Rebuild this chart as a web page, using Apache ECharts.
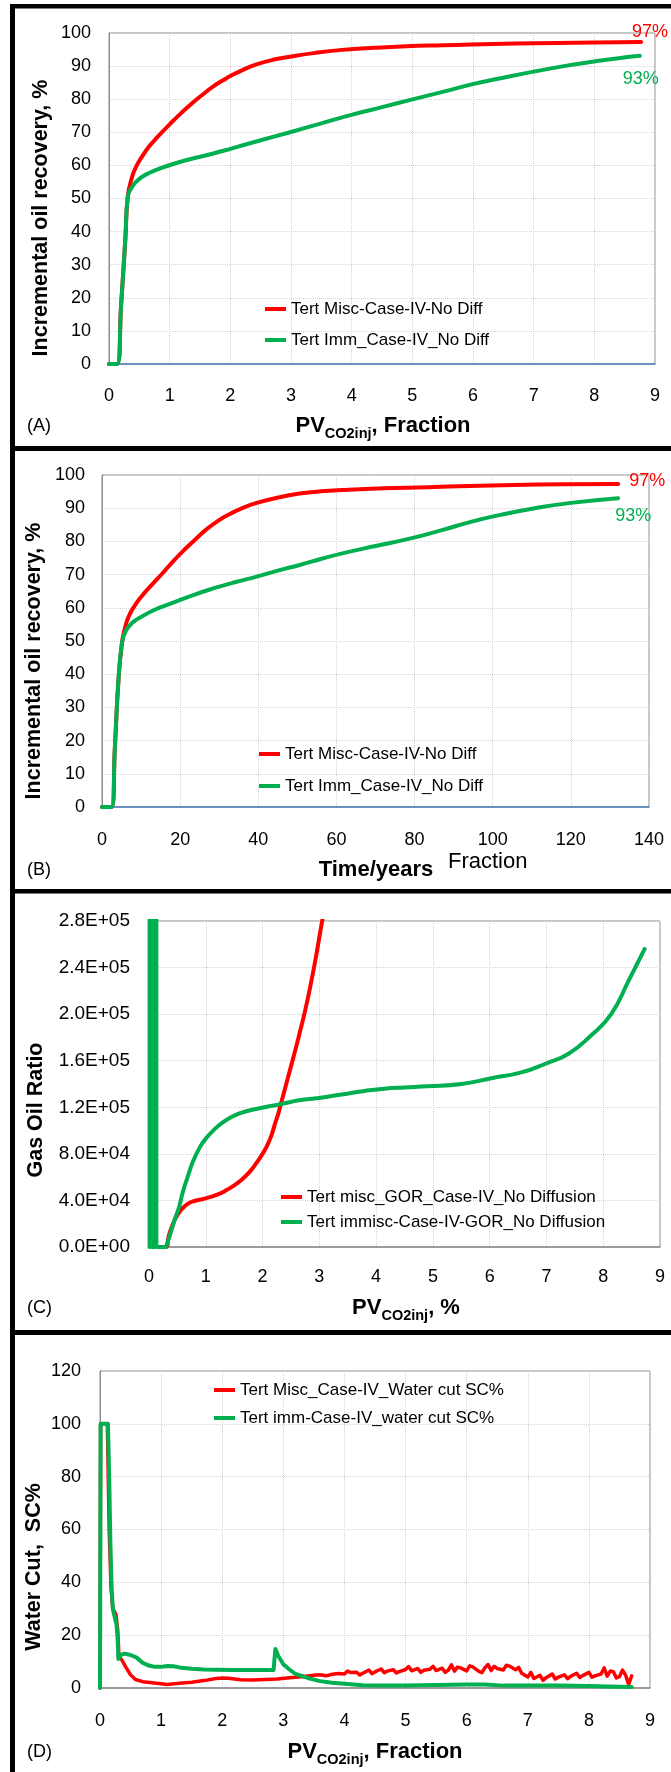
<!DOCTYPE html>
<html>
<head>
<meta charset="utf-8">
<title>CO2 injection - Case IV</title>
<script src="https://cdn.jsdelivr.net/npm/echarts@6/dist/echarts.min.js"></script>
<style>
    html, body { margin: 0; padding: 0; background: #fff; }
    #main { width: 671px; height: 1772px; }
</style>
</head>
<body>
<div id="main"></div>
<script>
// 面板 A: 采收率 vs PV
var pvMiscA = [0, 0.13, 0.2, 0.27, 0.31, 0.38, 0.45, 0.55, 0.66, 0.8, 1.02, 1.2, 1.37, 1.55, 1.72, 1.88, 2.0, 2.2, 2.43, 2.7, 3.0, 3.4, 3.84, 4.3, 4.9, 5.5, 5.96, 6.7, 7.37, 8.0, 8.77];
var recMiscA = [0, 0, 18, 38, 50.6, 56.5, 59.7, 62.8, 65.7, 68.6, 72.8, 76, 78.8, 81.5, 83.9, 85.7, 87.0, 88.8, 90.5, 91.9, 92.9, 94.0, 94.9, 95.5, 96.0, 96.3, 96.5, 96.8, 97.0, 97.1, 97.3];
var pvImmA = [0, 0.13, 0.2, 0.27, 0.31, 0.38, 0.45, 0.55, 0.66, 0.8, 1.02, 1.3, 1.72, 2.0, 2.5, 3.0, 3.5, 3.98, 4.5, 4.97, 5.5, 5.96, 6.5, 7.02, 7.5, 8.0, 8.4, 8.75];
var recImmA = [0, 0, 18, 38, 50.6, 53.5, 55.1, 56.6, 57.7, 58.8, 60.2, 61.7, 63.6, 65.0, 67.6, 70.1, 72.7, 75.2, 77.6, 79.8, 82.2, 84.4, 86.5, 88.4, 90, 91.4, 92.4, 93.1];

// 面板 B: 采收率 vs 时间
var yrMiscB = [0, 2.4, 3.3, 4.2, 5.1, 5.9, 6.8, 8.3, 10.1, 12.8, 15.5, 18.2, 21, 23.8, 26.5, 29.7, 33, 36.2, 39.6, 45, 50.6, 56, 61.5, 72, 83.4, 94, 105.3, 118, 132.1];
var recMiscB = [0, 0, 18, 38, 49.3, 54, 57.3, 60.5, 63.4, 67, 70.4, 74, 77.4, 80.5, 83.4, 86.2, 88.4, 90.2, 91.6, 93.2, 94.4, 95.1, 95.5, 96, 96.3, 96.7, 97, 97.2, 97.3];
var yrImmB = [0, 2.4, 3.3, 4.2, 5.1, 5.9, 6.8, 8.3, 10.1, 13.5, 17.7, 23, 28.7, 34, 39.6, 45, 50.6, 56, 61.5, 70, 79, 87, 94.4, 102, 110.8, 120, 132.1];
var recImmB = [0, 0, 18, 38, 49.3, 52.5, 54.3, 56, 57.3, 59.4, 61.3, 63.7, 65.9, 67.7, 69.4, 71.2, 72.9, 74.7, 76.4, 78.6, 80.9, 83.4, 85.9, 88, 90, 91.6, 93];

// 面板 C: 气油比
var pvMiscC = [0.15, 0.29, 0.35, 0.45, 0.55, 0.68, 0.8, 0.98, 1.2, 1.36, 1.52, 1.66, 1.78, 1.89, 1.98, 2.07, 2.15, 2.22, 2.28, 2.34, 2.45, 2.56, 2.66, 2.75, 2.85, 2.94, 3.05, 3.17];
var gorMiscC = [0, 0, 10000, 23000, 31000, 37000, 39500, 41600, 45000, 48700, 53500, 59000, 65000, 72000, 78500, 86000, 95000, 106000, 115000, 126000, 146000, 166000, 185000, 203000, 226000, 249000, 280000, 310000];
// 初期极高的气油比 (超出坐标上限, 呈竖条)
var pvImmSpikeC = [0.01, 0.01, 0.05, 0.05, 0.09, 0.09, 0.13, 0.13, 0.3];
var gorImmSpikeC = [0, 400000, 400000, 0, 0, 400000, 400000, 0, 0];
var pvImmC = [0.3, 0.38, 0.45, 0.53, 0.6, 0.68, 0.78, 0.9, 1.0, 1.13, 1.3, 1.51, 1.75, 2.04, 2.35, 2.64, 3.0, 3.39, 3.8, 4.15, 4.5, 4.9, 5.5, 6.03, 6.56, 7.01, 7.39, 7.77, 8.14, 8.45, 8.73];
var gorImmC = [0, 12000, 23000, 34400, 48000, 60000, 74000, 86000, 93000, 100000, 107000, 113000, 117000, 120000, 123000, 126000, 128000, 131000, 134000, 136000, 137000, 138000, 140000, 145000, 150000, 158000, 166000, 181000, 200000, 229000, 256000];

// 面板 D: 含水率
var pvMiscD = [0, 0.01, 0.12, 0.15, 0.18, 0.21, 0.26, 0.29, 0.31, 0.36, 0.42, 0.5, 0.58, 0.7, 0.85, 1.0, 1.1, 1.3, 1.5, 1.7, 1.9, 2.0, 2.1, 2.3, 2.5, 2.7, 2.9, 3.1, 3.3, 3.5, 3.6, 3.7, 3.8, 3.9, 4.0, 4.05, 4.1, 4.2, 4.25, 4.3, 4.4, 4.45, 4.5, 4.6, 4.65, 4.7, 4.8, 4.85, 4.9, 5.0, 5.05, 5.1, 5.2, 5.25, 5.3, 5.4, 5.45, 5.5, 5.6, 5.65, 5.7, 5.75, 5.8, 5.85, 5.9, 6.0, 6.05, 6.1, 6.2, 6.25, 6.3, 6.35, 6.4, 6.45, 6.5, 6.6, 6.65, 6.7, 6.8, 6.85, 6.9, 7.0, 7.05, 7.1, 7.2, 7.25, 7.3, 7.4, 7.45, 7.5, 7.6, 7.65, 7.7, 7.8, 7.85, 7.9, 8.0, 8.05, 8.1, 8.2, 8.25, 8.3, 8.35, 8.4, 8.45, 8.5, 8.55, 8.6, 8.65, 8.7];
var wcMiscD = [0, 100, 100, 60, 38, 30, 28, 22, 12, 10.5, 8, 5, 3.2, 2.4, 2.0, 1.6, 1.3, 1.8, 2.2, 2.8, 3.6, 3.8, 3.7, 3.1, 3.0, 3.2, 3.4, 3.9, 4.3, 4.8, 5.0, 4.6, 5.2, 5.5, 5.3, 6.4, 5.9, 6.0, 4.9, 5.6, 6.8, 5.4, 6.1, 7.2, 5.8, 6.4, 6.9, 5.7, 6.2, 7.0, 8.1, 6.5, 7.4, 5.9, 6.7, 7.1, 8.2, 6.6, 7.5, 5.9, 6.8, 8.8, 6.4, 7.9, 7.6, 6.5, 8.4, 8.0, 6.3, 5.8, 7.7, 8.9, 6.6, 8.2, 7.4, 6.8, 8.6, 8.3, 6.9, 7.8, 5.6, 4.2, 5.9, 3.6, 4.8, 2.9, 3.9, 5.3, 3.4, 4.1, 5.0, 3.5, 4.4, 5.6, 4.0, 4.7, 5.9, 4.1, 4.6, 5.3, 7.6, 4.5, 6.4, 6.2, 3.8, 4.3, 6.8, 4.9, 1.4, 4.6];
var pvImmD = [0, 0.01, 0.13, 0.15, 0.17, 0.19, 0.21, 0.24, 0.27, 0.29, 0.3, 0.34, 0.4, 0.5, 0.6, 0.7, 0.8, 0.9, 1.0, 1.1, 1.2, 1.3, 1.5, 1.7, 1.9, 2.2, 2.5, 2.84, 2.87, 2.92, 3.0, 3.1, 3.2, 3.4, 3.6, 3.8, 4.0, 4.3, 4.6, 5.0, 5.5, 6.0, 6.3, 6.6, 7.0, 7.5, 8.0, 8.3, 8.7];
var wcImmD = [0, 100, 100, 80, 55, 38, 30, 27, 24, 18, 11, 12.5, 13, 12.5, 11.5, 9.5, 8.5, 8, 8, 8.3, 8.2, 7.8, 7.3, 7.0, 6.9, 6.8, 6.8, 6.8, 14.8, 12, 9, 7, 5.3, 3.8, 2.6, 2, 1.6, 1.0, 0.9, 0.9, 1.1, 1.3, 1.3, 0.9, 0.9, 0.9, 0.8, 0.6, 0.4];

var FONT = 'Liberation Sans, Arial, sans-serif';
var RED = '#ff0000';
var GREEN = '#00b050';

function zip(xs, ys) {
    var out = [];
    for (var i = 0; i < xs.length; i++) {
        out.push([xs[i], ys[i]]);
    }
    return out;
}

function sciLabel(v) {
    if (v === 0) return '0.0E+00';
    var e = Math.floor(Math.log10(v) + 1e-9);
    var m = v / Math.pow(10, e);
    return m.toFixed(1) + 'E+' + (e < 10 ? '0' + e : e);
}

var grids = [
    { left: 109, top: 33, width: 546, height: 331 },
    { left: 102, top: 475, width: 547, height: 332 },
    { left: 149, top: 921, width: 511, height: 326 },
    { left: 100, top: 1371, width: 550, height: 317 }
];
grids.forEach(function (g) {
    g.show = true;
    g.borderColor = '#8c8c8c';
    g.borderWidth = 1;
    g.backgroundColor = '#fff';
});

var splitLine = { show: true, lineStyle: { color: '#d4d4d4', type: 'dotted', width: 1 } };

function xAxis(idx, max, interval, lineColor, margin) {
    return {
        type: 'value', gridIndex: idx, min: 0, max: max, interval: interval,
        axisLine: { show: true, onZero: false, lineStyle: { color: lineColor, width: 1.5 } },
        axisTick: { show: false },
        axisLabel: { color: '#000', fontSize: 18, fontFamily: FONT, margin: margin },
        splitLine: splitLine
    };
}

function yAxis(idx, max, interval, margin, fmt, size) {
    return {
        type: 'value', gridIndex: idx, min: 0, max: max, interval: interval,
        axisLine: { show: true, lineStyle: { color: '#8c8c8c', width: 1 } },
        axisTick: { show: false },
        axisLabel: { color: '#000', fontSize: size || 18, fontFamily: FONT, margin: margin, formatter: fmt },
        splitLine: splitLine
    };
}

function line(name, idx, data, color, smooth, endLabel, width) {
    var s = {
        name: name, type: 'line', xAxisIndex: idx, yAxisIndex: idx,
        data: data, showSymbol: false, symbol: 'none',
        smooth: smooth,
        lineStyle: { color: color, width: width || 4, join: 'round', cap: 'round' },
        itemStyle: { color: color },
        clip: true
    };
    if (endLabel) {
        s.endLabel = {
            show: true, formatter: endLabel.text, color: color,
            fontSize: 18, fontFamily: FONT, offset: endLabel.offset
        };
    }
    return s;
}

function legend(names, left, top, gap) {
    return {
        data: names, orient: 'vertical', left: left, top: top, padding: 0,
        itemGap: gap, itemWidth: 21, itemHeight: 4, icon: 'rect',
        textStyle: { color: '#000', fontSize: 17, fontFamily: FONT, lineHeight: 20 },
        selectedMode: false
    };
}

// 轴标题 (带下标)
var subRich = {
    b: { fontSize: 22, fontWeight: 'bold', fontFamily: FONT, lineHeight: 30, color: '#000' },
    s: { fontSize: 14.5, fontWeight: 'bold', fontFamily: FONT, lineHeight: 16, verticalAlign: 'bottom', color: '#000' }
};

function title(text, x, y, rotate, size) {
    return {
        type: 'text', x: x, y: y, rotation: rotate ? Math.PI / 2 : 0,
        style: {
            text: text, fill: '#000', align: 'center', verticalAlign: 'middle',
            font: 'bold ' + (size || 21) + 'px ' + FONT
        }
    };
}

function richTitle(text, x, y) {
    return {
        type: 'text', x: x, y: y,
        style: { text: text, rich: subRich, align: 'center', verticalAlign: 'middle' }
    };
}

function plain(text, x, y, size) {
    return {
        type: 'text', x: x, y: y,
        style: { text: text, fill: '#000', font: size + 'px ' + FONT, align: 'left', verticalAlign: 'middle' }
    };
}

function bar(x, y, w, h) {
    return { type: 'rect', shape: { x: x, y: y, width: w, height: h }, style: { fill: '#000' }, z: 100 };
}

var nameMiscA = 'Tert Misc-Case-IV-No Diff';
var nameImmA = 'Tert Imm_Case-IV_No Diff';
var nameMiscC = 'Tert misc_GOR_Case-IV_No Diffusion';
var nameImmC = 'Tert immisc-Case-IV-GOR_No Diffusion';
var nameMiscD = 'Tert Misc_Case-IV_Water cut SC%';
var nameImmD = 'Tert imm-Case-IV_water cut SC%';

var option = {
    animation: false,
    backgroundColor: '#fff',
    grid: grids,
    xAxis: [
        xAxis(0, 9, 1, '#4a7ebb', 23),
        xAxis(1, 140, 20, '#4a7ebb', 24),
        xAxis(2, 9, 1, '#8c8c8c', 21),
        xAxis(3, 9, 1, '#8c8c8c', 24)
    ],
    yAxis: [
        yAxis(0, 100, 10, 18),
        yAxis(1, 100, 10, 17),
        yAxis(2, 280000, 40000, 19, sciLabel, 19),
        yAxis(3, 120, 20, 19)
    ],
    legend: [
        legend([nameMiscA, nameImmA], 265, 299, 11),
        legend([nameMiscA, nameImmA], 259, 744, 12),
        legend([nameMiscC, nameImmC], 281, 1187, 5),
        legend([nameMiscD, nameImmD], 214, 1380, 8)
    ],
    series: [
        line(nameMiscA, 0, zip(pvMiscA, recMiscA), RED, 0.5, { text: '97%', offset: [-17, -10] }),
        line(nameImmA, 0, zip(pvImmA, recImmA), GREEN, 0.5, { text: '93%', offset: [-25, 23] }),
        line(nameMiscA, 1, zip(yrMiscB, recMiscB), RED, 0.5, { text: '97%', offset: [3, -3] }),
        line(nameImmA, 1, zip(yrImmB, recImmB), GREEN, 0.5, { text: '93%', offset: [-11, 18] }),
        line(nameMiscC, 2, zip(pvMiscC, gorMiscC), RED, 0.5),
        line(nameImmC, 2, zip(pvImmSpikeC, gorImmSpikeC), GREEN, false),
        line(nameImmC, 2, zip(pvImmC, gorImmC), GREEN, 0.5),
        line(nameMiscD, 3, zip(pvMiscD, wcMiscD), RED, false, null, 3.5),
        line(nameImmD, 3, zip(pvImmD, wcImmD), GREEN, false)
    ],
    graphic: [
        // 外框与分隔线
        bar(10, 4, 5, 1768),
        bar(10, 4, 661, 4.5),
        bar(10, 446, 661, 5),
        bar(10, 889, 661, 4.5),
        bar(10, 1330, 661, 5),
        // 纵轴标题
        title('Incremental oil recovery, %', 41, 218, true, 21.5),
        title('Incremental oil recovery, %', 34, 661, true, 21.5),
        title('Gas Oil Ratio', 36, 1110, true, 21.5),
        title('Water Cut,  SC%', 34, 1567, true, 21.5),
        // 横轴标题
        richTitle('{b|PV}{s|CO2inj}{b|, Fraction}', 383, 426),
        richTitle('{b|Time/years}', 376, 870),
        plain('Fraction', 448, 862, 22),
        richTitle('{b|PV}{s|CO2inj}{b|, %}', 406, 1308),
        richTitle('{b|PV}{s|CO2inj}{b|, Fraction}', 375, 1752),
        // 面板编号
        plain('(A)', 27, 426, 18),
        plain('(B)', 27, 870, 18),
        plain('(C)', 27, 1308, 18),
        plain('(D)', 27, 1752, 18)
    ]
};

var myChart = echarts.init(document.getElementById('main'));
myChart.setOption(option);
</script>
</body>
</html>
